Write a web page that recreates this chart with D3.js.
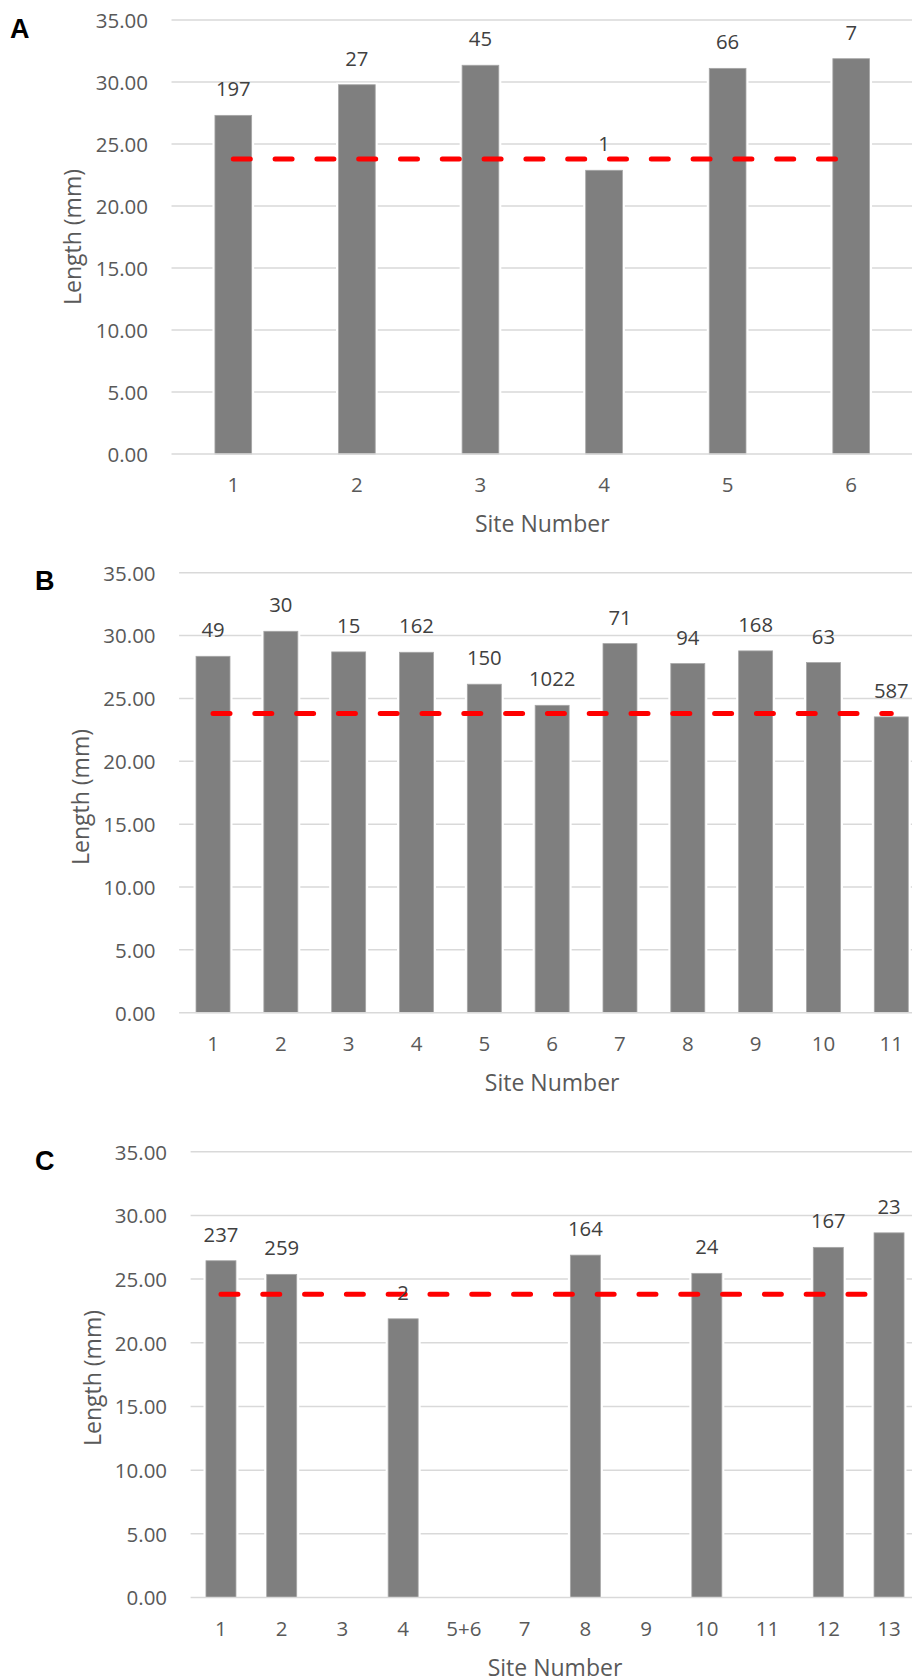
<!DOCTYPE html>
<html>
<head>
<meta charset="utf-8">
<script src="https://cdn.jsdelivr.net/npm/d3@7"></script>
<style>
  html, body { margin: 0; padding: 0; background: #fff; }
  svg { display: block; }
</style>
</head>
<body>
<svg id="chart" width="912" height="1678"></svg>
<script>
// Site categories, mean lengths (mm) and sample counts per panel
const siteA = ["1", "2", "3", "4", "5", "6"];
const lengthA = [27.31, 29.78, 31.35, 22.88, 31.10, 31.88];
const countA = [197, 27, 45, 1, 66, 7];

const siteB = ["1", "2", "3", "4", "5", "6", "7", "8", "9", "10", "11"];
const lengthB = [28.35, 30.34, 28.70, 28.67, 26.13, 24.45, 29.36, 27.77, 28.78, 27.85, 23.53];
const countB = [49, 30, 15, 162, 150, 1022, 71, 94, 168, 63, 587];

const siteC = ["1", "2", "3", "4", "5+6", "7", "8", "9", "10", "11", "12", "13"];
const lengthC = [26.44, 25.37, null, 21.88, null, null, 26.88, null, 25.45, null, 27.49, 28.63];
const countC = [237, 259, null, 2, null, null, 164, null, 24, null, 167, 23];

// Value axis ticks and the overall reference length shown as the dashed line
const yTicks = [0, 5, 10, 15, 20, 25, 30, 35];
const referenceLength = 23.8;

// Layout of the three stacked panels
const panels = [
  { letter: "A", sites: siteA, lengths: lengthA, counts: countA,
    left: 171.5, right: 913, top: 20, bottom: 454, barFrac: 0.297,
    letterX: 10, letterY: 38, yTitleX: 72.5, yTitleY: 237 },
  { letter: "B", sites: siteB, lengths: lengthB, counts: countB,
    left: 179.1, right: 925.2, top: 572.7, bottom: 1012.7, barFrac: 0.501,
    letterX: 35, letterY: 590, yTitleX: 81, yTitleY: 797 },
  { letter: "C", sites: siteC, lengths: lengthC, counts: countC,
    left: 190.6, right: 919.4, top: 1151.7, bottom: 1597.5, barFrac: 0.494,
    letterX: 35, letterY: 1170, yTitleX: 92.5, yTitleY: 1378 }
];

const FONT = "'Open Sans', 'Noto Sans', sans-serif";
const TICK_FS = 20.5;
const LABEL_FS = 20.3;
const TITLE_FS = 23;

const svg = d3.select("#chart");

panels.forEach(p => {
  const g = svg.append("g");
  const pInner = 1 - p.barFrac;
  const x = d3.scaleBand()
    .domain(p.sites)
    .range([p.left, p.right])
    .paddingInner(pInner)
    .paddingOuter(pInner / 2);
  const y = d3.scaleLinear().domain([0, 35]).range([p.bottom, p.top]);

  // horizontal gridlines
  g.append("g").selectAll("line")
    .data(yTicks.filter(t => t > 0))
    .join("line")
    .attr("x1", p.left).attr("x2", p.right)
    .attr("y1", d => y(d)).attr("y2", d => y(d))
    .attr("stroke", "#d9d9d9").attr("stroke-width", 1.5);

  // value axis labels
  const yAxis = g.append("g")
    .attr("transform", `translate(${p.left},0)`)
    .call(d3.axisLeft(y).tickValues(yTicks).tickFormat(d3.format(".2f")).tickSize(0).tickPadding(23.5));
  yAxis.select(".domain").remove();
  yAxis.selectAll("text")
    .attr("font-family", FONT).attr("font-size", TICK_FS)
    .attr("fill", "#595959").attr("dy", "0.36em");

  const rows = p.sites.map((s, i) => ({ site: s, len: p.lengths[i], n: p.counts[i] }));
  const present = rows.filter(r => r.len != null);

  // white halo separating bars from gridlines
  g.append("g").selectAll("rect")
    .data(present)
    .join("rect")
    .attr("x", d => x(d.site) - 2.5)
    .attr("width", x.bandwidth() + 5)
    .attr("y", d => y(d.len) - 2)
    .attr("height", d => y(0) - y(d.len) + 2)
    .attr("fill", "#ffffff");

  // bars
  g.append("g").selectAll("rect")
    .data(present)
    .join("rect")
    .attr("x", d => x(d.site))
    .attr("width", x.bandwidth())
    .attr("y", d => y(d.len))
    .attr("height", d => y(0) - y(d.len))
    .attr("fill", "#7f7f7f")
    .attr("stroke", "#a6a6a6").attr("stroke-width", 0.8);

  // category axis line
  g.append("line")
    .attr("x1", p.left).attr("x2", p.right)
    .attr("y1", y(0)).attr("y2", y(0))
    .attr("stroke", "#d9d9d9").attr("stroke-width", 1.5);

  // category labels
  const xAxis = g.append("g")
    .attr("transform", `translate(0,${y(0)})`)
    .call(d3.axisBottom(x).tickSize(0).tickPadding(0));
  xAxis.select(".domain").remove();
  xAxis.selectAll("text")
    .attr("font-family", FONT).attr("font-size", TICK_FS)
    .attr("fill", "#595959")
    .attr("y", 31).attr("dy", "0.36em");

  // dashed reference line across all categories
  const line = d3.line()
    .x(s => x(s) + x.bandwidth() / 2)
    .y(() => y(referenceLength));
  g.append("path")
    .datum(p.sites)
    .attr("d", line)
    .attr("fill", "none")
    .attr("stroke", "#ff0000")
    .attr("stroke-width", 5)
    .attr("stroke-linecap", "round")
    .attr("stroke-dasharray", "17 24.8");

  // sample-count labels above bars
  g.append("g").selectAll("text")
    .data(present)
    .join("text")
    .attr("x", d => x(d.site) + x.bandwidth() / 2)
    .attr("y", d => y(d.len) - 26.3)
    .attr("dy", "0.36em")
    .attr("text-anchor", "middle")
    .attr("font-family", FONT).attr("font-size", LABEL_FS)
    .attr("fill", "#404040")
    .text(d => d.n);

  // axis titles
  g.append("text")
    .attr("x", (p.left + p.right) / 2)
    .attr("y", y(0) + 70)
    .attr("dy", "0.36em")
    .attr("text-anchor", "middle")
    .attr("font-family", FONT).attr("font-size", TITLE_FS)
    .attr("fill", "#595959")
    .text("Site Number");

  g.append("text")
    .attr("transform", `translate(${p.yTitleX},${p.yTitleY}) rotate(-90)`)
    .attr("dy", "0.36em")
    .attr("text-anchor", "middle")
    .attr("font-family", FONT).attr("font-size", TITLE_FS)
    .attr("fill", "#595959")
    .text("Length (mm)");

  // panel letter
  g.append("text")
    .attr("x", p.letterX).attr("y", p.letterY)
    .attr("font-family", "'Liberation Sans', Arial, sans-serif")
    .attr("font-weight", "bold").attr("font-size", 27)
    .attr("fill", "#000")
    .text(p.letter);
});
</script>
</body>
</html>
